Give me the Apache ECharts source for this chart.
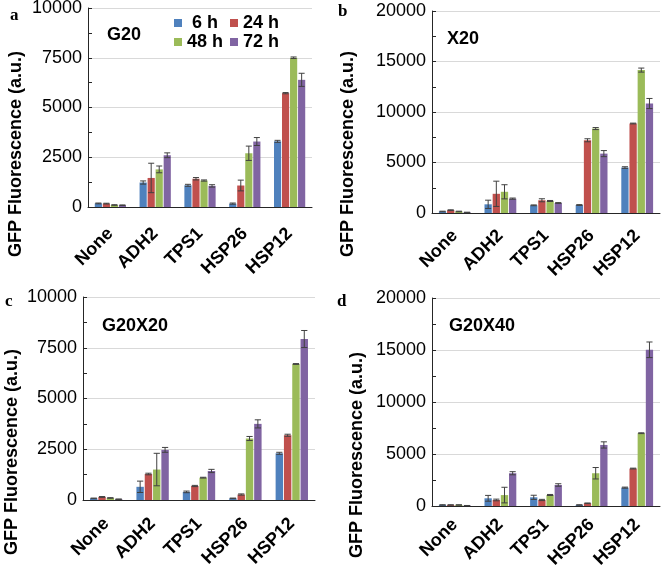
<!DOCTYPE html>
<html>
<head>
<meta charset="utf-8">
<script src="https://cdn.jsdelivr.net/npm/echarts@6/dist/echarts.min.js"></script>
<style>html,body{margin:0;padding:0;background:#fff}#c{width:664px;height:565px}</style>
</head>
<body>
<div id="c"></div>
<script>
const categories = ['None', 'ADH2', 'TPS1', 'HSP26', 'HSP12'];
const seriesNames = ['6 h', '24 h', '48 h', '72 h'];
const panelLetters = ['a', 'b', 'c', 'd'];
const panelTitles = ['G20', 'X20', 'G20X20', 'G20X40'];
const yMax = [10000, 20000, 10000, 20000];
const yInterval = [2500, 5000, 2500, 5000];

// Panel a: G20
const a6 = [180, 1230, 1090, 170, 3300];
const a24 = [170, 1460, 1420, 1080, 5720];
const a48 = [100, 1890, 1330, 2700, 7500];
const a72 = [90, 2600, 1060, 3290, 6390];
const a6e = [20, 80, 50, 30, 50];
const a24e = [20, 740, 60, 270, 30];
const a48e = [15, 170, 30, 360, 40];
const a72e = [15, 120, 60, 200, 330];

// Panel b: X20
const b6 = [150, 860, 760, 790, 4500];
const b24 = [280, 1900, 1260, 7200, 8860];
const b48 = [150, 2100, 1190, 8360, 14150];
const b72 = [60, 1420, 990, 5880, 10840];
const b6e = [30, 410, 40, 40, 80];
const b24e = [40, 1250, 150, 150, 40];
const b48e = [30, 700, 50, 100, 200];
const b72e = [20, 60, 40, 300, 500];

// Panel c: G20X20
const c6 = [80, 650, 400, 80, 2300];
const c24 = [150, 1280, 690, 270, 3190];
const c48 = [100, 1500, 1100, 3030, 6700];
const c72 = [40, 2470, 1430, 3750, 7930];
const c6e = [15, 280, 40, 15, 50];
const c24e = [20, 40, 30, 30, 50];
const c48e = [15, 800, 20, 100, 20];
const c72e = [10, 120, 80, 200, 420];

// Panel d: G20X40
const d6 = [100, 740, 835, 100, 1765];
const d24 = [100, 580, 580, 260, 3600];
const d48 = [100, 1050, 1060, 3150, 7000];
const d72 = [40, 3150, 2020, 5870, 15020];
const d6e = [20, 280, 200, 20, 50];
const d24e = [20, 80, 60, 30, 40];
const d48e = [20, 750, 50, 550, 40];
const d72e = [10, 150, 120, 300, 750];

const values = [[a6, a24, a48, a72], [b6, b24, b48, b72], [c6, c24, c48, c72], [d6, d24, d48, d72]];
const errors = [[a6e, a24e, a48e, a72e], [b6e, b24e, b48e, b72e], [c6e, c24e, c48e, c72e], [d6e, d24e, d48e, d72e]];

const colors = ['#4F81BD', '#C0504D', '#9BBB59', '#8064A2'];
const FONT = '"Liberation Sans", Arial, sans-serif';
const BW = 0.16, GAP = 0.12;

const grids = [
  {left: 88, top: 8, width: 224, height: 199},
  {left: 432, top: 11, width: 228, height: 202},
  {left: 83, top: 297, width: 232, height: 203},
  {left: 432, top: 298, width: 228, height: 208}
].map(g => Object.assign(g, {containLabel: false, outerBoundsMode: 'none'}));
const labelMargins = [24, 20, 21, 16];

const xAxes = [], yAxes = [], series = [], graphics = [];
grids.forEach((g, p) => {
  xAxes.push({
    type: 'category', gridIndex: p, data: categories,
    axisLine: {lineStyle: {color: '#262626', width: 1}},
    axisTick: {inside: true, length: 5, lineStyle: {color: '#262626'}},
    axisLabel: {rotate: 45, margin: labelMargins[p], fontFamily: FONT, fontWeight: 'bold', fontSize: 18, color: '#000'}
  });
  yAxes.push({
    type: 'value', gridIndex: p, min: 0, max: yMax[p], interval: yInterval[p],
    axisLine: {show: true, lineStyle: {color: '#262626', width: 1}},
    axisTick: {show: true, inside: true, length: 4, lineStyle: {color: '#262626'}},
    minorTick: {show: true, splitNumber: 2, length: 4, lineStyle: {color: '#262626'}},
    splitLine: {show: true, lineStyle: {color: '#D9D9D9', width: 1}},
    axisLabel: {margin: 6, fontFamily: FONT, fontSize: 18, color: '#000', formatter: v => String(v)}
  });
  seriesNames.forEach((name, s) => {
    series.push({
      type: 'bar', name: name, xAxisIndex: p, yAxisIndex: p,
      data: values[p][s], barWidth: (BW * 100) + '%', barGap: (GAP * 100) + '%',
      itemStyle: {color: colors[s]}, z: 2
    });
    series.push({
      type: 'custom', name: name + ' err', xAxisIndex: p, yAxisIndex: p, z: 5,
      encode: {x: 0, y: 1},
      data: categories.map((c, i) => [i, values[p][s][i], errors[p][s][i]]),
      renderItem: (params, api) => {
        const ci = api.value(0), v = api.value(1), e = api.value(2);
        const band = api.size([1, 0])[0];
        const bw = band * BW;
        const off = (s - 1.5) * bw * (1 + GAP);
        const top = api.coord([ci, v + e]);
        const bot = api.coord([ci, Math.max(0, v - e)]);
        const x = top[0] + off;
        const h = bw * 0.42;
        const st = {stroke: '#404040', lineWidth: 1};
        return {type: 'group', children: [
          {type: 'line', shape: {x1: x, y1: top[1], x2: x, y2: bot[1]}, style: st},
          {type: 'line', shape: {x1: x - h, y1: top[1], x2: x + h, y2: top[1]}, style: st},
          {type: 'line', shape: {x1: x - h, y1: bot[1], x2: x + h, y2: bot[1]}, style: st}
        ]};
      }
    });
  });
});

const letterPos = [[10, 16], [338, 12], [5, 302], [337, 302]];
const titlePos = [[107, 35], [447, 39], [102, 326], [449, 326]];
const yTitlePos = [[16, 154], [348, 154], [12, 452], [357, 455]];
panelLetters.forEach((l, p) => {
  graphics.push({type: 'text', x: letterPos[p][0], y: letterPos[p][1],
    style: {text: l, font: 'bold 17px "Liberation Serif", "Times New Roman", serif', fill: '#000', textVerticalAlign: 'middle'}});
  graphics.push({type: 'text', x: titlePos[p][0], y: titlePos[p][1],
    style: {text: panelTitles[p], font: 'bold 18px ' + FONT, fill: '#000', textVerticalAlign: 'middle'}});
  graphics.push({type: 'text', x: yTitlePos[p][0], y: yTitlePos[p][1], rotation: Math.PI / 2,
    style: {text: 'GFP Fluorescence (a.u.)', font: 'bold 18px ' + FONT, fill: '#000', textAlign: 'center', textVerticalAlign: 'middle'}});
});

const legendPos = [[174, 14, ' 6 h'], [230, 14, '24 h'], [174, 33, '48 h'], [230, 33, '72 h']];
const legends = seriesNames.map((n, i) => ({
  data: [n], left: legendPos[i][0], top: legendPos[i][1], padding: 0,
  icon: 'rect', itemWidth: 8, itemHeight: 8, selectedMode: false,
  formatter: () => legendPos[i][2],
  textStyle: {fontFamily: FONT, fontWeight: 'bold', fontSize: 18, color: '#000', padding: [0, 0, 0, 0]}
}));

const chart = echarts.init(document.getElementById('c'), null, {renderer: 'canvas'});
chart.setOption({
  animation: false,
  grid: grids,
  xAxis: xAxes,
  yAxis: yAxes,
  legend: legends,
  series: series,
  graphic: graphics
});
</script>
</body>
</html>
